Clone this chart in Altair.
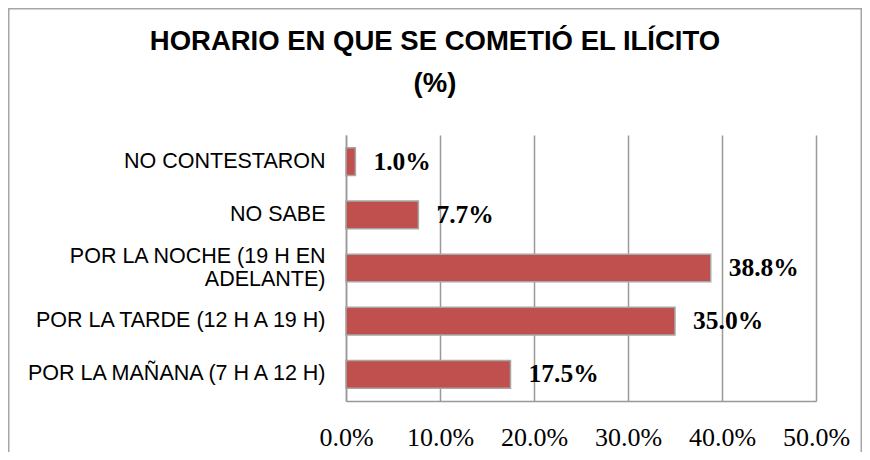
import altair as alt
import pandas as pd

categories = [
    "NO CONTESTARON",
    "NO SABE",
    "POR LA NOCHE (19 H EN\nADELANTE)",
    "POR LA TARDE (12 H A 19 H)",
    "POR LA MAÑANA (7 H A 12 H)",
]
values = [1.0, 7.7, 38.8, 35.0, 17.5]
tick_values = [0, 10, 20, 30, 40, 50]
title_lines = ["HORARIO EN QUE SE COMETIÓ EL ILÍCITO", "(%)"]

df = pd.DataFrame({"cat": categories, "val": values})
df["label"] = [f"{v:.1f}%" for v in values]

W, H = 470, 266
PL, PT = 338, 127
TOTAL_W, TOTAL_H = 854, 444

y_enc = alt.Y(
    "cat:N",
    sort=categories,
    scale=alt.Scale(paddingInner=0.48, paddingOuter=0.24),
    axis=alt.Axis(
        title=None,
        ticks=False,
        domain=True,
        domainColor="#999999",
        domainWidth=1.5,
        labelFont="Liberation Sans",
        labelFontSize=21.5,
        labelColor="#000000",
        labelPadding=21,
        labelLimit=400,
        labelLineHeight=23,
        labelOffset=alt.condition(
            "indexof(datum.value, 'NOCHE') >= 0", alt.value(-11.5), alt.value(0)
        ),
        labelExpr="split(datum.label, '\\n')",
    ),
)

x_scale = alt.Scale(domain=[0, 50], nice=False)

bars = alt.Chart(df).mark_bar(
    color="#C0504D", stroke="#A6A6A6", strokeWidth=1.5
).encode(
    x=alt.X(
        "val:Q",
        scale=x_scale,
        axis=alt.Axis(
            title=None,
            values=tick_values,
            grid=True,
            gridColor="#999999",
            gridWidth=1.5,
            ticks=False,
            domain=True,
            domainColor="#999999",
            domainWidth=1.5,
            labelFont="Liberation Serif",
            labelFontSize=26,
            labelColor="#000000",
            labelPadding=23,
            labelBaseline="top",
            labelAlign="center",
            labelFlush=False,
            labelOverlap=False,
            labelExpr="format(datum.value, '.1f') + '%'",
        ),
    ),
    y=y_enc,
)

labels = alt.Chart(df).mark_text(
    align="left",
    baseline="middle",
    dx=18,
    font="Liberation Serif",
    fontWeight="bold",
    fontSize=25.5,
    color="#000000",
).encode(
    x=alt.X("val:Q", scale=x_scale),
    y=alt.Y("cat:N", sort=categories),
    text="label:N",
)

border = alt.Chart(alt.Data(values=[{"k": 1}])).mark_rect(
    fillOpacity=0, stroke="#A6A6A6", strokeWidth=1.5
).encode(
    x=alt.value(-PL + 0.75),
    x2=alt.value(TOTAL_W - PL - 0.75),
    y=alt.value(-PT + 0.75),
    y2=alt.value(H + 200),
)

chart = alt.layer(border, bars, labels).properties(
    width=W,
    height=H,
    autosize=alt.AutoSizeParams(type="none"),
    padding={"left": PL, "top": PT, "right": TOTAL_W - PL - W, "bottom": TOTAL_H - PT - H},
    title=alt.TitleParams(
        text=title_lines,
        font="Liberation Sans",
        fontSize=27.5,
        fontWeight="bold",
        color="#000000",
        anchor="middle",
        frame="bounds",
        lineHeight=42,
        offset=-89,
    ),
).configure_view(strokeWidth=0)

chart.save("out.html", embed_options={"renderer": "svg", "actions": False})
